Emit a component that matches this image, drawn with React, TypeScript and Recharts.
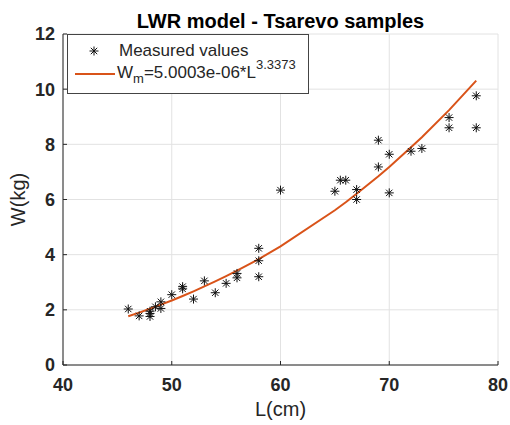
import { ComposedChart, Scatter, Line, XAxis, YAxis, CartesianGrid } from "recharts";

const lengthCm = [46, 47, 48, 48, 48, 48.5, 49, 49, 50, 51, 51, 52, 53, 54, 55, 56, 56, 58, 58, 58, 60, 65, 65.5, 66, 67, 67, 69, 69, 70, 70, 72, 73, 75.5, 75.5, 78, 78];
const weightKg = [2.03, 1.78, 1.87, 1.76, 1.95, 2.11, 2.29, 2.05, 2.55, 2.84, 2.76, 2.39, 3.05, 2.62, 2.96, 3.32, 3.16, 4.23, 3.78, 3.2, 6.34, 6.3, 6.7, 6.7, 6.36, 6.0, 8.15, 7.18, 7.64, 6.24, 7.75, 7.85, 8.97, 8.6, 9.76, 8.6];

// fitted curve W_m at the sample lengths
const fitL = [46, 47, 48, 49, 50, 51, 52, 53, 54, 55, 56, 58, 60, 65, 66, 67, 69, 70, 72, 73, 75.5, 78];
const fitW = [1.77, 1.9, 2.04, 2.19, 2.34, 2.5, 2.67, 2.85, 3.03, 3.22, 3.42, 3.84, 4.3, 5.61, 5.9, 6.21, 6.84, 7.18, 7.89, 8.26, 9.24, 10.31];

const xTicks = [40, 50, 60, 70, 80];
const yTicks = [0, 2, 4, 6, 8, 10, 12];

const measured = lengthCm.map((l, i) => ({ l, w: weightKg[i] }));
const fitted = fitL.map((l, i) => ({ l, w: fitW[i] }));

const FONT = "'Liberation Sans', Arial, sans-serif";
const AXIS = "#262626";
const ORANGE = "#D95319";

const Star = (props: any) => {
    const { cx, cy } = props;
    const r = 4.5;
    const d = 3.2;
    return (
        <g stroke="#111" strokeWidth={1}>
            <line x1={cx - r} y1={cy} x2={cx + r} y2={cy} />
            <line x1={cx} y1={cy - r} x2={cx} y2={cy + r} />
            <line x1={cx - d} y1={cy - d} x2={cx + d} y2={cy + d} />
            <line x1={cx - d} y1={cy + d} x2={cx + d} y2={cy - d} />
        </g>
    );
};

export default function App() {
    return (
        <div style={{ position: "absolute", left: 0, top: 0, width: 510, height: 425, background: "#fff", fontFamily: FONT }}>
            <ComposedChart width={510} height={425} margin={{ top: 34, right: 12, bottom: 30, left: 13 }}>
                <CartesianGrid stroke="#e2e2e2" strokeWidth={1} />
                <XAxis
                    type="number"
                    dataKey="l"
                    domain={[40, 80]}
                    ticks={xTicks}
                    height={30}
                    stroke={AXIS}
                    tickSize={-4}
                    tickMargin={17}
                    tick={{ fill: AXIS, fontSize: 18, fontWeight: "bold", fontFamily: FONT }}
                    label={(p: any) => {
                        const vb = p.viewBox || { x: 63, width: 435 };
                        return (
                            <text x={vb.x + vb.width / 2} y={416} textAnchor="middle" fontSize={20} fill={AXIS} fontFamily={FONT}>
                                L(cm)
                            </text>
                        );
                    }}
                />
                <YAxis
                    type="number"
                    dataKey="w"
                    domain={[0, 12]}
                    ticks={yTicks}
                    width={50}
                    stroke={AXIS}
                    tickSize={-4}
                    tickMargin={12}
                    tick={{ fill: AXIS, fontSize: 18, fontWeight: "bold", fontFamily: FONT }}
                    label={(p: any) => {
                        const vb = p.viewBox || { y: 34, height: 331 };
                        const cy = vb.y + vb.height / 2;
                        return (
                            <text x={25} y={cy} transform={`rotate(-90, 25, ${cy})`} textAnchor="middle" fontSize={20} fill={AXIS} fontFamily={FONT}>
                                W(kg)
                            </text>
                        );
                    }}
                />
                <Line
                    data={fitted}
                    dataKey="w"
                    type="linear"
                    stroke={ORANGE}
                    strokeWidth={2}
                    dot={false}
                    activeDot={false}
                    isAnimationActive={false}
                />
                <Scatter data={measured} dataKey="w" shape={<Star />} isAnimationActive={false} />
            </ComposedChart>

            <div
                style={{
                    position: "absolute",
                    left: 0,
                    top: 10,
                    width: 561,
                    textAlign: "center",
                    fontWeight: "bold",
                    fontSize: 20,
                    lineHeight: "22px",
                    color: "#000",
                }}
            >
                LWR model - Tsarevo samples
            </div>

            <svg style={{ position: "absolute", left: 67, top: 34 }} width={242} height={60}>
                <rect x={0.5} y={0.5} width={241} height={59} fill="#fff" stroke="#444" />
                <Star cx={27} cy={17} />
                <text x={52} y={22} fontSize={17} fill={AXIS} fontFamily={FONT}>
                    Measured values
                </text>
                <line x1={8} y1={40} x2={48} y2={40} stroke={ORANGE} strokeWidth={2} />
                <text x={50} y={44} fontSize={17} fill={AXIS} fontFamily={FONT}>
                    W
                    <tspan fontSize={13} dy={5}>m</tspan>
                    <tspan dy={-5}>=5.0003e-06*L</tspan>
                    <tspan fontSize={13} dy={-9}>3.3373</tspan>
                </text>
            </svg>
        </div>
    );
}
